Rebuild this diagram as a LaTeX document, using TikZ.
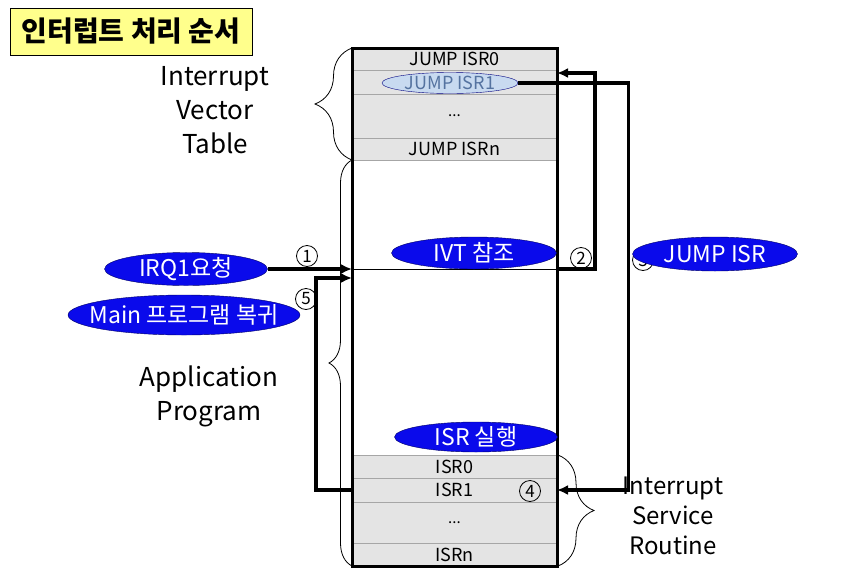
\documentclass[tikz,border=0pt]{standalone}
\usepackage{fontspec}
\setmainfont{Noto Sans CJK KR}
\usetikzlibrary{shapes.geometric,arrows.meta,positioning,decorations.pathreplacing}
\definecolor{bubbleblue}{RGB}{10,10,235}
\definecolor{cellgray}{RGB}{228,228,228}
\definecolor{titleyellow}{RGB}{255,255,140}
\definecolor{paleblue}{RGB}{200,218,240}
\definecolor{paletext}{RGB}{85,115,160}

\begin{document}
\begin{tikzpicture}[x=1pt, y=-1pt, node distance=0pt,
		cell/.style={draw=gray!70, line width=1pt, fill=cellgray, minimum width=205pt, outer sep=0pt, inner sep=0pt, font=\fontsize{18}{18}\selectfont},
		bubble/.style={ellipse, draw=blue!40!black, fill=bubbleblue, text=white, inner sep=0pt, font=\fontsize{23}{23}\selectfont},
		num/.style={circle, draw, line width=0.8pt, inner sep=0pt, minimum size=21pt, font=\fontsize{17}{17}\selectfont},
		flow/.style={line width=3.2pt, -{Latex[length=11pt,width=10pt]}},
		blocktext/.style={align=center, font=\fontsize{26}{34}\selectfont},
		curly/.style={decorate, line width=0.8pt}]
		\useasboundingbox (0,0) rectangle (849,568);
		
		% Title
		\node[draw, line width=1pt, fill=titleyellow, minimum width=242pt, minimum height=47pt, font=\fontsize{28}{28}\selectfont\bfseries] (title) at (131,31.5) {인터럽트 처리 순서};
		
		% Vector table rows
		\node[cell, minimum height=22pt] (ivt0) at (454.5,59) {JUMP ISR0};
		\node[cell, minimum height=24pt, below=of ivt0] (ivt1) {};
		\node[cell, minimum height=44pt, below=of ivt1, font=\fontsize{15}{15}\selectfont] (ivtdots) {...};
		\node[cell, minimum height=22pt, below=of ivtdots] (ivtn) {JUMP ISRn};
		
		% Service routine rows
		\node[cell, minimum height=23pt] (isr0) at (454.5,466.5) {ISR0};
		\node[cell, minimum height=24pt, below=of isr0] (isr1) {ISR1};
		\node[cell, minimum height=41pt, below=of isr1, font=\fontsize{15}{15}\selectfont] (isrdots) {...};
		\node[cell, minimum height=23pt, below=of isrdots] (isrn) {ISRn};
		
		% Memory column
		\draw[line width=3pt] (ivt0.north west) rectangle (isrn.south east);
		\coordinate (irqin) at (352,269);
		\coordinate (ivtout) at (557,269);
		\coordinate (retin) at (352,278);
		\draw[line width=0.8pt] (irqin) -- (ivtout);
		
		% Numbers
		\node[num] (n1) at (307,256) {1};
		\node[num] (n2) at (581,258) {2};
		\node[num] (n3) at (643,260) {3};
		\node[num] (n4) at (530,491) {4};
		
		% Bubbles
		\node[ellipse, draw=blue!50!black, fill=paleblue, text=paletext, inner sep=0pt, minimum width=136pt, minimum height=21pt, font=\fontsize{18}{18}\selectfont] (jump1) at (450,83) {JUMP ISR1};
		\node[bubble, minimum width=163pt, minimum height=33pt] (irq) at (186,269) {IRQ1요청};
		\node[bubble, inner xsep=-14pt, minimum width=232pt, minimum height=40pt] (back) at (184,315) {Main 프로그램 복귀};
		\node[bubble, minimum width=165pt, minimum height=32pt] (ivtref) at (474,253) {IVT 참조};
		\node[bubble, minimum width=165pt, minimum height=34pt] (jumpisr) at (715,254) {JUMP ISR};
		\node[bubble, minimum width=163pt, minimum height=30pt] (run) at (476,437) {ISR 실행};
		\node[num, fill=white] (n5) at (306,299) {5};
		
		% Arrows
		\draw[flow] (irq.east) -- (irqin);
		\draw[flow] (isr1.west) -- ++(-36,0) |- (retin);
		\draw[flow] (ivtout) -- ++(38,0) |- ([yshift=9pt]ivt1.east);
		\draw[flow] (jump1.east) -- ++(110,0) |- (isr1.east);
		
		% Braces
		\draw[curly, decoration={brace, amplitude=37pt}] (ivtn.south west) -- (ivt0.north west);
		\draw[curly, decoration={brace, amplitude=23pt}] (isr0.south west |- isrn.south) -- (ivtn.south west);
		\draw[curly, decoration={brace, amplitude=36pt}] ([xshift=1pt]isr0.north east) -- ([xshift=1pt]isrn.south east);
		
		% Labels
		\node[blocktext] (ivtlabel) at (215,110) {Interrupt\\Vector\\Table};
		\node[blocktext] (applabel) at (209,396) {Application\\Program};
		\node[blocktext, font=\fontsize{24}{30}\selectfont] (isrlabel) at (673,516) {Interrupt\\Service\\Routine};
		
	\end{tikzpicture}
\end{document}
